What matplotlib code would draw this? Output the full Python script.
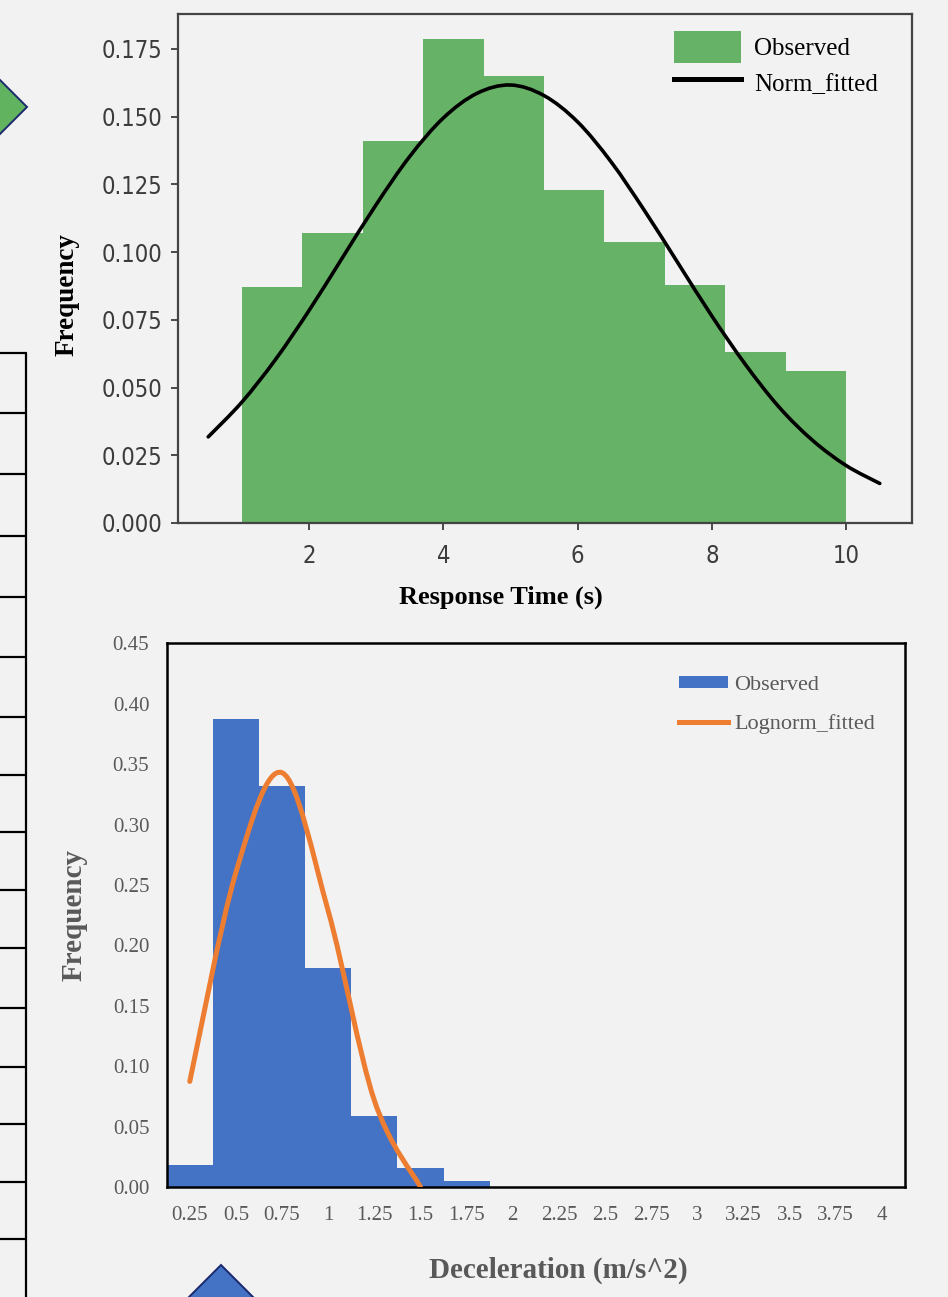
import matplotlib
matplotlib.use("Agg")
import matplotlib.pyplot as plt
from matplotlib.path import Path
from matplotlib.patches import PathPatch, Patch, Polygon
from matplotlib.lines import Line2D
from matplotlib.font_manager import FontProperties

# ---------------- data ----------------
# top: response time histogram (density) + fitted normal curve
rt_edges = [1.0, 1.9, 2.8, 3.7, 4.6, 5.5, 6.4, 7.3, 8.2, 9.1]
rt_freq = [0.0871, 0.1071, 0.1411, 0.1787, 0.1651, 0.1230, 0.1038, 0.0879, 0.0631, 0.0561]
rt_bin_w = 0.9

norm_x = [0.5, 1.0, 1.5, 2.0, 2.5, 3.0, 3.5, 4.0, 4.5, 5.0, 5.5,
          6.0, 6.5, 7.0, 7.5, 8.0, 8.5, 9.0, 9.5, 10.0, 10.5]
norm_y = [0.0318, 0.0446, 0.0603, 0.0784, 0.0980, 0.1175, 0.1353, 0.1495, 0.1586, 0.1617, 0.1578,
          0.1481, 0.1333, 0.1152, 0.0958, 0.0764, 0.0585, 0.0428, 0.0305, 0.0212, 0.0146]

# bottom: deceleration histogram + lognormal fit (Excel style category chart)
dec_labels = ['0.25', '0.5', '0.75', '1', '1.25', '1.5', '1.75', '2',
              '2.25', '2.5', '2.75', '3', '3.25', '3.5', '3.75', '4']
dec_freq = [0.0183, 0.3877, 0.3324, 0.1816, 0.0584, 0.0160, 0.0050, 0,
            0, 0, 0, 0, 0, 0, 0, 0]
logn_y = [0.0874, 0.2605, 0.3430, 0.2286, 0.0717, 0.0]   # at first 6 categories

# ---------------- style ----------------
BG = '#f2f2f2'
GREEN = '#66b266'
BLUE = '#4472c4'
ORANGE = '#ed7d31'
GREY_TXT = '#595959'
SERIF = ['Liberation Serif', 'DejaVu Serif']

W, H = 948, 1297
fig = plt.figure(figsize=(W / 100, H / 100), dpi=100, facecolor=BG)


def smooth_path(xs, ys):
    # excel-like smoothed line: bezier segments through the points
    pts = list(zip(xs, ys))
    n = len(pts)
    verts = [pts[0]]
    codes = [Path.MOVETO]
    for i in range(n - 1):
        p0 = pts[i - 1] if i > 0 else pts[i]
        p1 = pts[i]
        p2 = pts[i + 1]
        p3 = pts[i + 2] if i + 2 < n else pts[i + 1]
        c1 = (p1[0] + (p2[0] - p0[0]) / 6.0, p1[1] + (p2[1] - p0[1]) / 6.0)
        c2 = (p2[0] - (p3[0] - p1[0]) / 6.0, p2[1] - (p3[1] - p1[1]) / 6.0)
        verts += [c1, c2, p2]
        codes += [Path.CURVE4] * 3
    return Path(verts, codes)


# ---------------- background clutter from the screenshot ----------------
deco = fig.add_axes([0, 0, 1, 1], zorder=-5)
deco.set_xlim(0, W)
deco.set_ylim(H, 0)
deco.axis('off')
deco.patch.set_alpha(0)

table_rows = [352.7, 413.3, 474.3, 535.7, 596.7, 656.7, 716.7, 775, 832.3,
              890, 947.7, 1008, 1066.7, 1124, 1181.7, 1239.3]
deco.plot([26, 26], [table_rows[0], H + 5], color='black', lw=1.6, solid_capstyle='butt')
for yy in table_rows:
    deco.plot([-5, 26.8], [yy, yy], color='black', lw=1.6, solid_capstyle='butt')
deco.add_patch(Polygon([(27, 107), (-30, 50), (-87, 107), (-30, 164)],
                       closed=True, fc='#62b35f', ec='#1b2a6b', lw=1.4))
deco.add_patch(Polygon([(221, 1265), (150, 1336), (292, 1336)],
                       closed=True, fc=BLUE, ec='#1b2a6b', lw=1.4))

# ---------------- top chart ----------------
ax1 = fig.add_axes([178 / W, 1 - 523 / H, 734 / W, 509.5 / H], facecolor=BG)
ax1.bar(rt_edges, rt_freq, width=rt_bin_w, align='edge', color=GREEN, linewidth=0)
ax1.add_patch(PathPatch(smooth_path(norm_x, norm_y), fill=False, ec='black', lw=2.6,
                        capstyle='round', zorder=3))
ax1.set_xlim(0.05, 10.98)
ax1.set_ylim(0, 0.1881)
ax1.set_xticks([2, 4, 6, 8, 10])
ax1.set_yticks([0, 0.025, 0.05, 0.075, 0.1, 0.125, 0.15, 0.175])
ax1.set_yticklabels(['%.3f' % v for v in ax1.get_yticks()])
for s in ax1.spines.values():
    s.set_color('#444444')
    s.set_linewidth(1.6)
ax1.tick_params(axis='both', colors='#3c3c3c', length=5, width=1.3)
ax1.tick_params(axis='y', pad=6.5)
ax1.tick_params(axis='x', pad=10)
tick_fp = FontProperties(family='DejaVu Sans', stretch='condensed', size=17)
for lab in ax1.get_xticklabels() + ax1.get_yticklabels():
    lab.set_fontproperties(tick_fp)

ax1.set_xlabel('Response Time (s)', family=SERIF, fontweight='bold', fontsize=19, color='black')
ax1.xaxis.label.set_va('baseline')
ax1.xaxis.set_label_coords((500.5 - 178) / 734, -(604 - 523) / 509.5)
ax1.set_ylabel('Frequency', family=SERIF, fontweight='bold', fontsize=19.5, color='black')
ax1.yaxis.label.set_va('center')
ax1.yaxis.set_label_coords((67.5 - 178) / 734, 1 - (295 - 13.5) / 509.5)

h1 = [Patch(fc=GREEN, ec='none'), Line2D([], [], color='black', lw=3.6)]
ax1.legend(h1, ['Observed', 'Norm_fitted'], loc='upper left',
           bbox_to_anchor=(0.6757, 0.9657), frameon=False, borderpad=0, borderaxespad=0,
           handlelength=2.7, handleheight=1.58, handletextpad=0.5, labelspacing=0.15,
           prop={'family': SERIF, 'size': 18})

# ---------------- bottom chart ----------------
ax2 = fig.add_axes([166.7 / W, 1 - 1187 / H, 738.3 / W, 543.5 / H], facecolor=BG)
pos = list(range(len(dec_labels)))
ax2.bar(pos, dec_freq, width=1.0, color=BLUE, linewidth=0)
ax2.add_patch(PathPatch(smooth_path(pos[:len(logn_y)], logn_y), fill=False, ec=ORANGE,
                        lw=3.6, capstyle='round', zorder=3))
ax2.set_xlim(-0.5, len(dec_labels) - 0.5)
ax2.set_ylim(0, 0.45)
ax2.set_xticks(pos)
ax2.set_xticklabels(dec_labels)
yt = [i * 0.05 for i in range(10)]
ax2.set_yticks(yt)
ax2.set_yticklabels(['%.2f' % v for v in yt])
for s in ax2.spines.values():
    s.set_color('black')
    s.set_linewidth(1.8)
ax2.tick_params(axis='both', length=0, colors=GREY_TXT, labelsize=15)
ax2.tick_params(axis='y', pad=12.5)
ax2.tick_params(axis='x', pad=14)
for lab in ax2.get_xticklabels() + ax2.get_yticklabels():
    lab.set_family(SERIF)

ax2.set_xlabel('Deceleration (m/s^2)', family=SERIF, fontweight='bold', fontsize=21, color=GREY_TXT)
ax2.xaxis.label.set_va('baseline')
ax2.xaxis.set_label_coords((558.7 - 166.7) / 738.3, -(1277.3 - 1187) / 543.5)
ax2.set_ylabel('Frequency', family=SERIF, fontweight='bold', fontsize=21, color=GREY_TXT)
ax2.yaxis.label.set_va('center')
ax2.yaxis.set_label_coords((74 - 166.7) / 738.3, 1 - (915 - 643.5) / 543.5)

h2 = [Patch(fc=BLUE, ec='none'), Line2D([], [], color=ORANGE, lw=3.6)]
ax2.legend(h2, ['Observed', 'Lognorm_fitted'], loc='upper left',
           bbox_to_anchor=(0.6939, 0.941), frameon=False, borderpad=0, borderaxespad=0,
           handlelength=2.2, handleheight=0.5, handletextpad=0.27, labelspacing=0.86,
           labelcolor=GREY_TXT, prop={'family': SERIF, 'size': 16})

fig.savefig('out.png', dpi=100, facecolor=BG)
